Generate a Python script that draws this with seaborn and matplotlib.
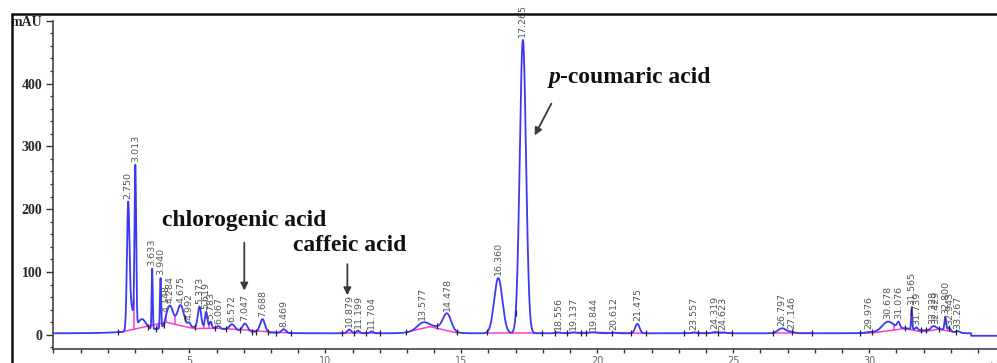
import numpy as np
import matplotlib
matplotlib.use("Agg")
import matplotlib.pyplot as plt
import seaborn as sns
from matplotlib.lines import Line2D
from matplotlib.ticker import MultipleLocator

# peak table: retention time (min), height above baseline (mAU), width (sigma, min)
rt = [2.750, 3.013, 3.633, 3.940, 4.148, 4.284, 4.675, 4.992, 5.373, 5.619, 5.783, 6.067,
      6.572, 7.047, 7.688, 8.469, 10.879, 11.199, 11.704, 13.577, 14.478, 16.360, 17.265,
      18.556, 19.137, 19.844, 20.612, 21.475, 23.557, 24.319, 24.623, 26.797, 27.146,
      29.976, 30.678, 31.076, 31.565, 31.739, 32.328, 32.429, 32.800, 32.943, 33.267]
height = [185, 252, 96, 80, 3, 35, 35, 6.5, 33, 25, 10, 4,
          9, 12, 21, 6, 6, 4, 3, 8.7, 27, 88, 467,
          1.5, 1.5, 1.5, 1, 15, 1.5, 2, 1.5, 8, 2,
          1, 13, 9, 35, 4, 4, 3, 21, 5, 2.5]
width = [0.045, 0.03, 0.02, 0.022, 0.05, 0.12, 0.12, 0.05, 0.06, 0.045, 0.04, 0.06,
         0.1, 0.09, 0.09, 0.08, 0.07, 0.06, 0.06, 0.2, 0.15, 0.15, 0.115,
         0.1, 0.1, 0.15, 0.1, 0.08, 0.08, 0.1, 0.1, 0.15, 0.1,
         0.1, 0.2, 0.05, 0.02, 0.04, 0.07, 0.07, 0.03, 0.05, 0.06]

# broad unlabelled humps under the peaks
hump_rt = [2.85, 3.25, 5.0, 13.9, 31.2, 32.6]
hump_h = [40, 18, 10, 11, 8, 6]
hump_w = [0.09, 0.15, 1.4, 0.45, 0.6, 0.35]

# detector baseline (mAU) before / after the step near the end of the run
base_before, base_after, base_step = 2.5, -1.5, 33.75

# integration baselines (magenta), one polyline per peak group
mag_t = [[2.39, 3.49, 4.15, 4.84, 5.21, 6.0, 7.0, 7.85, 8.75],
         [10.55, 12.0],
         [12.95, 13.85, 14.85],
         [15.95, 17.0, 17.95],
         [18.4, 19.8, 21.8],
         [23.2, 24.95],
         [26.45, 27.9],
         [29.67, 30.1, 31.3, 31.9, 32.15, 32.55, 33.2]]
mag_v = [[3.5, 14, 20, 13, 10, 10.5, 8, 5, 3],
         [2.5, 2.5],
         [4, 13, 3],
         [2.5, 2.5, 2.5],
         [3, 4, 2.5],
         [3, 3],
         [2.5, 2.5],
         [2.5, 3, 10, 5, 6, 9, 4]]
drop_t = [2.95, 3.80, 4.13, 4.47, 5.52, 5.71, 5.93, 30.93, 32.70]

# start / end marks of integration
mark_t = [2.38, 3.49, 3.78, 4.05, 4.84, 5.21, 5.95, 6.35, 6.85, 7.3, 7.45, 7.9, 8.2, 8.75,
          10.6, 11.05, 11.5, 12.0, 12.95, 14.1, 14.85, 15.95, 17.0, 17.95, 18.45, 18.9,
          19.4, 19.6, 20.55, 21.25, 21.8, 23.2, 23.7, 24.0, 24.45, 24.95, 26.45, 27.15,
          27.9, 29.67, 30.1, 31.3, 31.55, 31.9, 32.1, 32.55, 32.95, 33.2]

yticks = [0, 100, 200, 300, 400, 500]
ytick_labels = ["0", "100", "200", "300", "400", "mAU"]
xticks = [5, 10, 15, 20, 25, 30]


def signal(t):
    t = np.asarray(t, dtype=float)
    y = np.where(t > base_step, base_after, base_before)
    for c, h, w in zip(rt + hump_rt, height + hump_h, width + hump_w):
        y = y + h * np.exp(-0.5 * ((t - c) / w) ** 2)
    return y


sns.set_style("ticks")
serif = ["Liberation Serif", "DejaVu Serif"]

fig = plt.figure(figsize=(9.97, 3.63), dpi=100)
ax = fig.add_axes([53.4 / 997, 13.7 / 363, 1 - 53.4 / 997, 328.6 / 363])

t = np.linspace(0, 34.7, 7000)
sns.lineplot(x=t, y=signal(t), ax=ax, color="#3a3af5", lw=1.3, estimator=None, zorder=3)

for mt, mv in zip(mag_t, mag_v):
    ax.plot(mt, mv, color="#ff3ccf", lw=1.1, zorder=2)
for d in drop_t:
    for mt, mv in zip(mag_t, mag_v):
        if mt[0] <= d <= mt[-1]:
            ax.plot([d, d], [np.interp(d, mt, mv), signal(d)], color="#ff3ccf", lw=1.1, zorder=2)

ax.scatter(mark_t, signal(mark_t), marker="|", s=18, color="#222222", linewidths=0.9, zorder=4)

for r in rt:
    ax.text(r, signal(r) + 4, f"{r:.3f}", rotation=90, ha="center", va="bottom",
            fontsize=6.8, color="#555555", clip_on=False,
            family=["Liberation Sans Narrow", "DejaVu Sans"])

ax.set_xlim(0, 34.7)
ax.set_ylim(-23, 500)
ax.set_yticks(yticks)
ax.set_yticklabels(ytick_labels, family=serif, fontweight="bold", fontsize=10)
ax.yaxis.set_minor_locator(MultipleLocator(20))
ax.set_xticks(xticks)
ax.set_xticklabels([str(x) for x in xticks], fontsize=7, color="#666666")
ax.xaxis.set_minor_locator(MultipleLocator(1))
ax.tick_params(axis="y", which="major", length=5, width=1, pad=3, color="#333333")
ax.tick_params(axis="y", which="minor", length=2.5, width=0.9, color="#333333")
ax.tick_params(axis="x", which="both", length=3, width=1, pad=2, color="#333333")
ax.text(34.45, -0.04, "min", transform=ax.get_xaxis_transform(), ha="center", va="top",
        fontsize=7, color="#666666")

sns.despine(ax=ax)
for s in ["left", "bottom"]:
    ax.spines[s].set_linewidth(1.2)
    ax.spines[s].set_color("#444444")

# compound annotations
txt_kw = dict(family=serif, fontweight="bold", fontsize=17, color="#111111")
arrow_kw = dict(arrowstyle="-|>", color="#3a3a3a", lw=1.3, mutation_scale=11)
ax.text(3.98, 172.6, "chlorogenic acid", va="baseline", ha="left", **txt_kw)
ax.annotate("", xy=(7.02, 66), xytext=(7.02, 151), arrowprops=arrow_kw)
ax.text(8.82, 132.7, "caffeic acid", va="baseline", ha="left", **txt_kw)
ax.annotate("", xy=(10.81, 58.5), xytext=(10.81, 117), arrowprops=arrow_kw)
ptxt = ax.text(18.2, 401, "p", va="baseline", ha="left", fontstyle="italic", **txt_kw)
ax.annotate("-coumaric acid", xy=(1, 0), xycoords=ptxt, va="bottom", ha="left", **txt_kw)
ax.annotate("", xy=(17.65, 313.5), xytext=(18.36, 372), arrowprops=arrow_kw)

# outer frame of the figure
fig.add_artist(Line2D([12.3 / 997, 1], [1 - 14 / 363] * 2, color="#111111", lw=1.8))
fig.add_artist(Line2D([12.3 / 997] * 2, [0, 1 - 14 / 363], color="#111111", lw=1.8))

fig.savefig("out.png", dpi=100)
